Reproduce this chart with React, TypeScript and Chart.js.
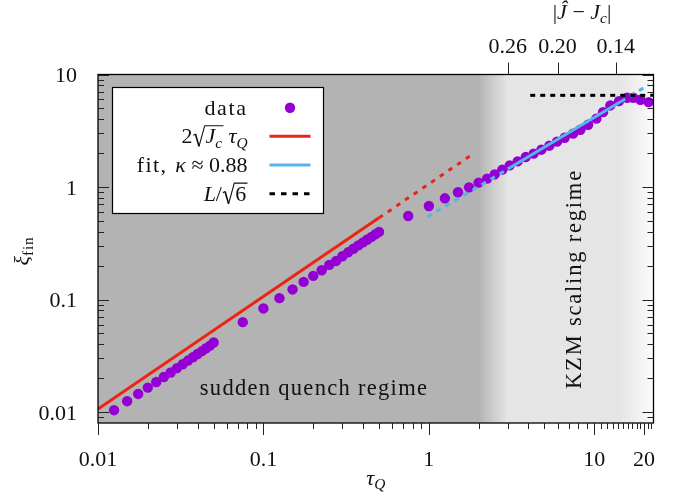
import React, { useEffect, useRef } from 'react';
import { Chart, registerables } from 'chart.js';

Chart.register(...registerables);

const W = 676;
const H = 498;

// axis ranges
const X_MIN = 0.01;
const X_MAX = 22.8;
const Y_MIN = 0.008;
const Y_MAX = 10;

// measured data (tau_Q, xi_fin)
const TAU_DATA = [
  0.0125, 0.015, 0.0175, 0.02, 0.0225, 0.025, 0.0275, 0.03, 0.0325, 0.035, 0.0375, 0.04, 0.0425, 0.045, 0.0475, 0.05,
  0.075, 0.1, 0.125, 0.15, 0.175, 0.2, 0.225, 0.25, 0.275, 0.3, 0.325, 0.35, 0.375, 0.4, 0.425, 0.45, 0.475, 0.5,
  0.75, 1.0, 1.25, 1.5, 1.75, 2.0, 2.25, 2.5,
  2.78, 3.08, 3.44, 3.85, 4.3, 4.79, 5.35, 5.95, 6.62, 7.44, 8.24, 9.18, 10.3, 11.3, 12.5, 14.1, 15.8, 17.2, 19.0, 21.3,
];
const XI_DATA = [
  0.0104, 0.0125, 0.0145, 0.0165, 0.0185, 0.0205, 0.0225, 0.0246, 0.0266, 0.0287, 0.0307, 0.0328, 0.0348, 0.0369, 0.039, 0.0415,
  0.063, 0.0834, 0.1029, 0.123, 0.1435, 0.1623, 0.1823, 0.2032, 0.2204, 0.2427, 0.263, 0.283, 0.303, 0.322, 0.342, 0.361, 0.38, 0.399,
  0.553, 0.678, 0.794, 0.898, 0.994, 1.094, 1.187, 1.296,
  1.427, 1.557, 1.69, 1.846, 1.979, 2.147, 2.33, 2.53, 2.74, 2.98, 3.23, 3.58, 4.05, 4.63, 5.31, 5.8, 6.21, 6.21, 5.96, 5.68,
];

// 2 sqrt(Jc) tau_Q
const RED_SOLID_TAU = [0.01, 0.5];
const RED_SOLID_XI = [0.01065, 0.5325];
const RED_DOTTED_TAU = [0.5, 1.82];
const RED_DOTTED_XI = [0.5325, 1.938];

// fit, kappa ~ 0.88
const FIT_DASH1_TAU = [0.98, 3.0];
const FIT_DASH1_XI = [0.542, 1.446];
const FIT_SOLID_TAU = [3.0, 14.5];
const FIT_SOLID_XI = [1.446, 5.755];
const FIT_DASH2_TAU = [14.5, 21.3];
const FIT_DASH2_XI = [5.755, 8.07];

// L / sqrt(6)
const PLATEAU_TAU = [4.1, 22.8];
const PLATEAU_XI = [6.53, 6.53];

// ticks
const X_MAJOR_TICKS = [0.01, 0.1, 1, 10, 20];
const X_TICK_LABELS = ['0.01', '0.1', '1', '10', '20'];
const X_MINOR_TICKS = [
  0.02, 0.03, 0.04, 0.05, 0.06, 0.07, 0.08, 0.09,
  0.2, 0.3, 0.4, 0.5, 0.6, 0.7, 0.8, 0.9,
  2, 3, 4, 5, 6, 7, 8, 9,
  11, 12, 13, 14, 15, 16, 17, 18, 19, 21, 22,
];
const Y_MAJOR_TICKS = [0.01, 0.1, 1, 10];
const Y_TICK_LABELS = ['0.01', '0.1', '1', '10'];
const Y_MINOR_TICKS = [
  0.009,
  0.02, 0.03, 0.04, 0.05, 0.06, 0.07, 0.08, 0.09,
  0.2, 0.3, 0.4, 0.5, 0.6, 0.7, 0.8, 0.9,
  2, 3, 4, 5, 6, 7, 8, 9,
];
const TOP_TICK_TAU = [3.0, 6.0, 13.5];
const TOP_TICK_LABELS = ['0.26', '0.20', '0.14'];

// background regimes (tau values)
const BG_DARK_END = 2.0;
const BG_LIGHT_START = 3.0;
const BG_FADE_START = 14.0;

const PURPLE = '#9400d3';
const RED = '#ec2416';
const BLUE = '#56b4e9';
const FONT = '"Liberation Serif", "Times New Roman", serif';

type Part = { t?: string; it?: boolean; sub?: boolean; ls?: number; sqrt?: Part[]; gap?: number };

function setFont(ctx: any, p: Part, size: number) {
  const s = p.sub ? size * 0.7 : size;
  ctx.font = `${p.it ? 'italic ' : ''}${s}px ${FONT}`;
  ctx.letterSpacing = `${p.ls ?? 0}px`;
}

function measure(ctx: any, parts: Part[], size: number): number {
  let w = 0;
  for (const p of parts) {
    if (p.gap) w += p.gap;
    else if (p.sqrt) w += size * 0.6 + measure(ctx, p.sqrt, size) + size * 0.06;
    else {
      setFont(ctx, p, size);
      w += ctx.measureText(p.t).width;
    }
  }
  ctx.letterSpacing = '0px';
  return w;
}

function drawParts(ctx: any, parts: Part[], x: number, y: number, size: number): number {
  let cx = x;
  for (const p of parts) {
    if (p.gap) {
      cx += p.gap;
      continue;
    }
    if (p.sqrt) {
      const inner = measure(ctx, p.sqrt, size);
      const top = y - size * 0.8;
      ctx.save();
      ctx.strokeStyle = ctx.fillStyle;
      ctx.lineWidth = size * 0.05;
      ctx.lineJoin = 'miter';
      ctx.beginPath();
      ctx.moveTo(cx + size * 0.04, y - size * 0.36);
      ctx.lineTo(cx + size * 0.14, y - size * 0.42);
      ctx.stroke();
      ctx.lineWidth = size * 0.075;
      ctx.beginPath();
      ctx.moveTo(cx + size * 0.14, y - size * 0.42);
      ctx.lineTo(cx + size * 0.3, y + size * 0.14);
      ctx.stroke();
      ctx.lineWidth = size * 0.05;
      ctx.beginPath();
      ctx.moveTo(cx + size * 0.3, y + size * 0.14);
      ctx.lineTo(cx + size * 0.56, top);
      ctx.lineTo(cx + size * 0.6 + inner + size * 0.06, top);
      ctx.stroke();
      ctx.restore();
      cx += size * 0.6;
      cx = drawParts(ctx, p.sqrt, cx, y, size);
      cx += size * 0.06;
      continue;
    }
    setFont(ctx, p, size);
    ctx.fillText(p.t, cx, p.sub ? y + size * 0.2 : y);
    cx += ctx.measureText(p.t).width;
  }
  ctx.letterSpacing = '0px';
  return cx;
}

function drawMath(ctx: any, parts: Part[], x: number, y: number, size: number, align: 'left' | 'center' | 'right') {
  ctx.save();
  ctx.textAlign = 'left';
  ctx.textBaseline = 'alphabetic';
  const w = measure(ctx, parts, size);
  const sx = align === 'left' ? x : align === 'center' ? x - w / 2 : x - w;
  drawParts(ctx, parts, sx, y, size);
  ctx.restore();
}

const zip = (xs: number[], ys: number[]) => xs.map((x, i) => ({ x, y: ys[i] }));

const customPlugin = {
  id: 'custom',
  beforeDatasetsDraw(chart: any) {
    const { ctx, chartArea } = chart;
    const { left, right, top, bottom } = chartArea;
    const xs = chart.scales.x;
    const w = right - left;
    const f = (v: number) => Math.min(1, Math.max(0, (xs.getPixelForValue(v) - left) / w));
    const g = ctx.createLinearGradient(left, 0, right, 0);
    g.addColorStop(0, '#b3b3b3');
    g.addColorStop(f(BG_DARK_END), '#b3b3b3');
    g.addColorStop((f(BG_DARK_END) + f(BG_LIGHT_START)) / 2, '#cdcdcd');
    g.addColorStop(f(BG_LIGHT_START), '#e5e5e5');
    g.addColorStop(f(BG_FADE_START), '#e5e5e5');
    g.addColorStop(1, '#fbfbfb');
    ctx.save();
    ctx.fillStyle = g;
    ctx.fillRect(left, top, w, bottom - top);
    ctx.restore();
  },
  afterDatasetsDraw(chart: any) {
    const { ctx, chartArea } = chart;
    const { left, right, top, bottom } = chartArea;
    const xs = chart.scales.x;
    const ys = chart.scales.y;
    ctx.save();
    // region labels
    ctx.fillStyle = '#111';
    drawMath(ctx, [{ t: 'sudden quench regime', ls: 1.3 }], 314, 395, 22.5, 'center');
    ctx.save();
    ctx.translate(581, 279);
    ctx.rotate(-Math.PI / 2);
    drawMath(ctx, [{ t: 'KZM scaling regime', ls: 1.8 }], 0, 0, 22.5, 'center');
    ctx.restore();

    // frame
    ctx.strokeStyle = '#000';
    ctx.lineWidth = 1.3;
    ctx.strokeRect(left, top, right - left, bottom - top);

    // ticks
    ctx.lineWidth = 1;
    ctx.strokeStyle = '#222';
    const vline = (x: number, y0: number, y1: number) => {
      const px = Math.round(x) + 0.5;
      ctx.beginPath();
      ctx.moveTo(px, y0);
      ctx.lineTo(px, y1);
      ctx.stroke();
    };
    const hline = (y: number, x0: number, x1: number) => {
      const py = Math.round(y) + 0.5;
      ctx.beginPath();
      ctx.moveTo(x0, py);
      ctx.lineTo(x1, py);
      ctx.stroke();
    };
    X_MAJOR_TICKS.forEach((v) => vline(xs.getPixelForValue(v), bottom, bottom + 12));
    X_MINOR_TICKS.forEach((v) => {
      if (v <= X_MAX) vline(xs.getPixelForValue(v), bottom, bottom + 6);
    });
    TOP_TICK_TAU.forEach((v) => vline(xs.getPixelForValue(v), top, top - 12));
    Y_MAJOR_TICKS.forEach((v) => {
      const py = ys.getPixelForValue(v);
      hline(py, left, left + 11);
      hline(py, right, right - 11);
    });
    Y_MINOR_TICKS.forEach((v) => {
      if (v < Y_MIN || v > Y_MAX) return;
      const py = ys.getPixelForValue(v);
      hline(py, left, left + 6);
      hline(py, right, right - 6);
    });
    ctx.restore();
  },
  afterDraw(chart: any) {
    const { ctx, chartArea } = chart;
    const { left, right } = chartArea;
    const xs = chart.scales.x;
    const ys = chart.scales.y;
    ctx.save();
    ctx.fillStyle = '#111';
    const S = 22;
    // tick labels
    X_MAJOR_TICKS.forEach((v, i) => drawMath(ctx, [{ t: X_TICK_LABELS[i] }], xs.getPixelForValue(v), 466, S, 'center'));
    Y_MAJOR_TICKS.forEach((v, i) => drawMath(ctx, [{ t: Y_TICK_LABELS[i] }], 77, ys.getPixelForValue(v) + 7.5, S, 'right'));
    TOP_TICK_TAU.forEach((v, i) => drawMath(ctx, [{ t: TOP_TICK_LABELS[i] }], xs.getPixelForValue(v), 53, S, 'center'));

    // axis titles
    drawMath(ctx, [{ t: 'τ', it: true }, { t: 'Q', it: true, sub: true }], (left + right) / 2, 485, S, 'center');
    drawMath(
      ctx,
      [{ t: '|' }, { t: 'Ĵ', it: true }, { t: ' − ' }, { t: 'J', it: true }, { t: 'c', it: true, sub: true }, { t: '|' }],
      582,
      19,
      S,
      'center',
    );
    ctx.save();
    ctx.translate(29, 251);
    ctx.rotate(-Math.PI / 2);
    drawMath(ctx, [{ t: 'ξ', it: true }, { t: 'fin', sub: true, ls: 0.8 }], 0, 0, S, 'center');
    ctx.restore();

    // legend
    const bx = 112.5, by = 87.5, bw = 211, bh = 126;
    ctx.fillStyle = '#fff';
    ctx.fillRect(bx, by, bw, bh);
    ctx.strokeStyle = '#000';
    ctx.lineWidth = 1.2;
    ctx.strokeRect(bx, by, bw, bh);
    ctx.fillStyle = '#111';
    const rows = [107.7, 136.3, 165, 193.7];
    const tx = 247.5;
    const sx0 = 269.5, sx1 = 310.5;
    drawMath(ctx, [{ t: 'data', ls: 1.6 }], tx, rows[0] + 7, S, 'right');
    drawMath(
      ctx,
      [{ t: '2' }, { sqrt: [{ t: 'J', it: true }, { t: 'c', it: true, sub: true }] }, { gap: 5 }, { t: 'τ', it: true }, { t: 'Q', it: true, sub: true }],
      tx,
      rows[1] + 7,
      S,
      'right',
    );
    drawMath(ctx, [{ t: 'fit,', ls: 1.4 }, { gap: 8 }, { t: 'κ', it: true }, { t: ' ≈ ' }, { t: '0.88' }], tx, rows[2] + 7, S, 'right');
    drawMath(ctx, [{ t: 'L', it: true }, { t: '/' }, { sqrt: [{ t: '6' }] }], tx, rows[3] + 7, S, 'right');

    ctx.fillStyle = PURPLE;
    ctx.beginPath();
    ctx.arc((sx0 + sx1) / 2, rows[0], 5.2, 0, Math.PI * 2);
    ctx.fill();
    const seg = (y: number, color: string, dash: number[]) => {
      ctx.strokeStyle = color;
      ctx.lineWidth = 3;
      ctx.setLineDash(dash);
      ctx.beginPath();
      ctx.moveTo(sx0, y);
      ctx.lineTo(sx1, y);
      ctx.stroke();
    };
    seg(rows[1], RED, []);
    seg(rows[2], BLUE, []);
    seg(rows[3], '#000', [5.5, 6]);
    ctx.setLineDash([]);
    ctx.restore();
  },
};

const lineDs = (data: any[], color: string, dash: number[]) => ({
  data,
  showLine: true,
  borderColor: color,
  backgroundColor: color,
  borderWidth: 3,
  borderDash: dash,
  pointRadius: 0,
  pointHoverRadius: 0,
  fill: false,
});

export default function App() {
  const ref = useRef<HTMLCanvasElement>(null);
  useEffect(() => {
    if (!ref.current) return;
    const chart = new Chart(ref.current, {
      type: 'scatter',
      data: {
        datasets: [
          lineDs(zip(PLATEAU_TAU, PLATEAU_XI), '#000', [5, 5]),
          lineDs(zip(FIT_SOLID_TAU, FIT_SOLID_XI), BLUE, []),
          lineDs(zip(FIT_DASH1_TAU, FIT_DASH1_XI), BLUE, [5, 5.5]),
          lineDs(zip(FIT_DASH2_TAU, FIT_DASH2_XI), BLUE, [5, 5.5]),
          lineDs(zip(RED_SOLID_TAU, RED_SOLID_XI), RED, []),
          lineDs(zip(RED_DOTTED_TAU, RED_DOTTED_XI), RED, [4.5, 6]),
          {
            data: zip(TAU_DATA, XI_DATA),
            showLine: false,
            pointRadius: 5.2,
            pointHoverRadius: 5.2,
            pointBackgroundColor: PURPLE,
            pointBorderWidth: 0,
            pointBorderColor: PURPLE,
          },
        ],
      } as any,
      options: {
        responsive: false,
        animation: false,
        devicePixelRatio: 1,
        events: [],
        layout: { padding: { left: 98, right: W - 653.5, top: 74.5, bottom: H - 423 } },
        plugins: { legend: { display: false }, tooltip: { enabled: false } },
        scales: {
          x: { type: 'logarithmic', min: X_MIN, max: X_MAX, display: false },
          y: { type: 'logarithmic', min: Y_MIN, max: Y_MAX, display: false },
        },
      } as any,
      plugins: [customPlugin],
    });
    return () => chart.destroy();
  }, []);
  return (
    <div style={{ position: 'absolute', left: 0, top: 0, width: W, height: H, background: '#fff' }}>
      <canvas ref={ref} width={W} height={H} style={{ display: 'block', width: W, height: H }} />
    </div>
  );
}
